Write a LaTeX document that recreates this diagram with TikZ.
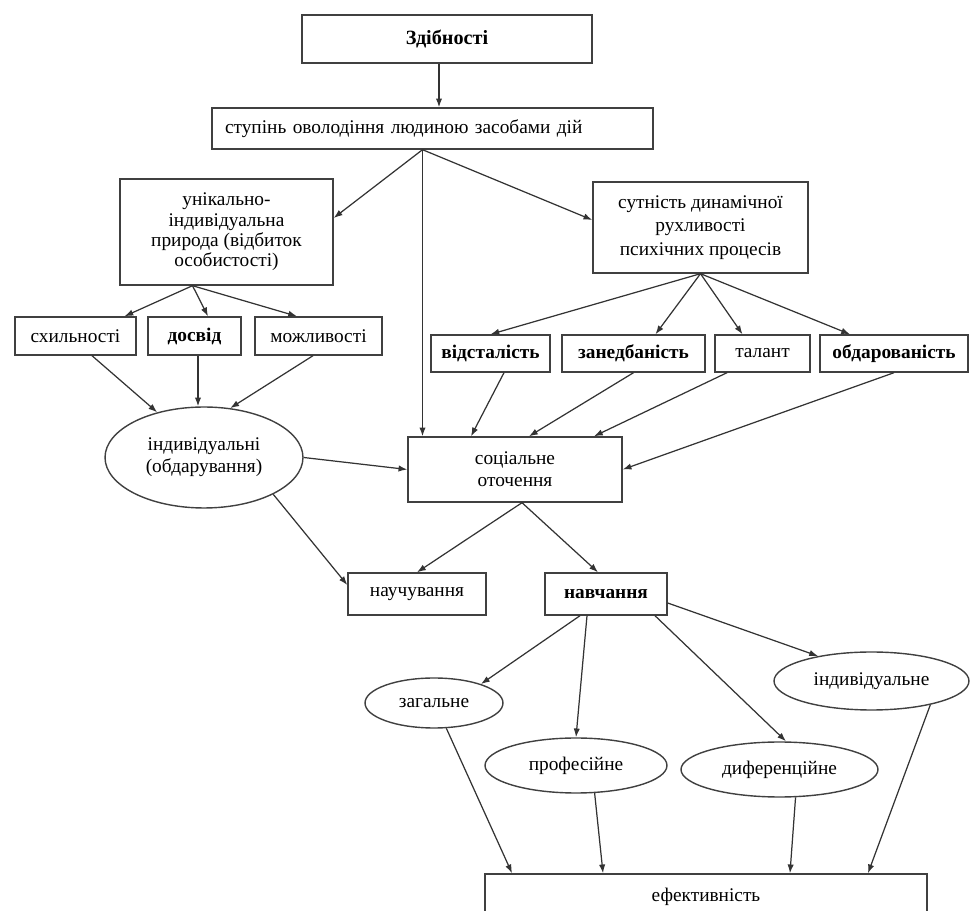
\documentclass[tikz,border=0pt]{standalone}
\usepackage{fontspec}
\setmainfont{Liberation Serif}
\usepackage{tikz}
\usetikzlibrary{shapes.geometric,calc,arrows.meta}

\begin{document}
\begin{tikzpicture}[x=0.02cm, y=-0.02cm,
        box/.style={draw=black!75, line width=0.8pt, rectangle, inner sep=1pt, align=center,
            font=\fontsize{11}{13}\selectfont},
        oval/.style={draw=black!75, line width=0.8pt, ellipse, inner sep=0pt, align=center,
            font=\fontsize{11}{13}\selectfont},
        arr/.style={draw=black!80, line width=0.7pt, -{Latex[length=5pt,width=3.6pt]}}]
        \useasboundingbox (0,0) rectangle (971,911);

        % boxes
        \node[box, minimum width=5.8cm, minimum height=0.96cm, font=\fontsize{11.5}{13}\selectfont\bfseries] (zdib) at (447,39) {Здібності};
        \node[box, minimum height=0.82cm, text width=8.3cm, inner xsep=0.26cm, align=left] (stup) at (432.5,128.5) {ступінь оволодіння людиною засобами дій};
        \node[box, minimum width=4.26cm, minimum height=2.12cm, font=\fontsize{11}{11.6}\selectfont] (unik) at (226.5,232) {унікально-\\індивідуальна\\природа (відбиток\\особистості)};
        \node[box, minimum width=4.3cm, minimum height=1.82cm, font=\fontsize{11}{13.4}\selectfont] (sutn) at (700.5,227.5) {сутність динамічної\\рухливості\\психічних процесів};

        \node[box, minimum width=2.42cm, minimum height=0.76cm] (sxyl) at (75.5,336) {схильності};
        \node[box, minimum width=1.86cm, minimum height=0.76cm, font=\fontsize{11}{13}\selectfont\bfseries] (dosv) at (194.5,336) {досвід};
        \node[box, minimum width=2.54cm, minimum height=0.76cm] (mozh) at (318.5,336) {можливості};

        \node[box, minimum width=2.38cm, minimum height=0.74cm, font=\fontsize{11}{13}\selectfont\bfseries] (vids) at (490.5,353.5) {відсталість};
        \node[box, minimum width=2.86cm, minimum height=0.74cm, font=\fontsize{11}{13}\selectfont\bfseries] (zaned) at (633.5,353.5) {занедбаність};
        \node[box, minimum width=1.9cm, minimum height=0.74cm] (talant) at (762.5,353.5) {талант};
        \node[box, minimum width=2.96cm, minimum height=0.74cm, font=\fontsize{11}{13}\selectfont\bfseries] (obdar) at (894,353.5) {обдарованість};

        \node[oval, minimum width=3.96cm, minimum height=2.02cm, font=\fontsize{11}{12.5}\selectfont] (indiv) at (204,457.5) {індивідуальні\\(обдарування)};
        \node[box, minimum width=4.28cm, minimum height=1.3cm, font=\fontsize{11}{12.5}\selectfont] (soc) at (515,469.5) {соціальне\\оточення};

        \node[box, minimum width=2.76cm, minimum height=0.84cm] (nauch) at (417,594) {научування};
        \node[box, minimum width=2.44cm, minimum height=0.84cm, font=\fontsize{11}{13}\selectfont\bfseries] (navch) at (606,594) {навчання};

        \node[oval, minimum width=2.76cm, minimum height=1.0cm] (zag) at (434,703) {загальне};
        \node[oval, minimum width=3.64cm, minimum height=1.1cm] (prof) at (576,765.5) {професійне};
        \node[oval, minimum width=3.94cm, minimum height=1.1cm] (dyf) at (779.5,769.5) {диференційне};
        \node[oval, minimum width=3.9cm, minimum height=1.16cm] (ind) at (871.5,681) {індивідуальне};

        \node[box, minimum width=8.84cm, minimum height=0.92cm] (efek) at (706,897) {ефективність};

        % fork points
        \coordinate (zdibout) at ([xshift=-0.16cm]zdib.south);
        \coordinate (stupout) at ([xshift=-0.2cm]stup.south);
        \coordinate (unikout) at ([xshift=-0.68cm]unik.south);
        \coordinate (dosvout) at ([xshift=0.07cm]dosv.south);
        \coordinate (socout) at ([xshift=0.14cm]soc.south);

        % arrows
        \draw[arr] (zdibout) -- (zdibout |- stup.north);
        \draw[arr] (stupout) -- ([yshift=0.28cm]unik.east);
        \draw[arr] (stupout) -- (stupout |- soc.north);
        \draw[arr] (stupout) -- ([yshift=0.15cm]sutn.west);

        \draw[arr] (unikout) -- ([xshift=0.98cm]sxyl.north);
        \draw[arr] (unikout) -- ([xshift=0.27cm]dosv.north);
        \draw[arr] (unikout) -- ([xshift=-0.43cm]mozh.north);

        \draw[arr] (sutn.south) -- (vids.north);
        \draw[arr] (sutn.south) -- ([xshift=0.44cm]zaned.north);
        \draw[arr] (sutn.south) -- ([xshift=-0.4cm]talant.north);
        \draw[arr] (sutn.south) -- ([xshift=-0.88cm]obdar.north);

        \draw[arr] ([xshift=0.33cm]sxyl.south) -- (indiv.136);
        \draw[arr] (dosvout) -- (dosvout |- indiv.north);
        \draw[arr] ([xshift=-0.11cm]mozh.south) -- (indiv.62);

        \draw[arr] ([xshift=0.27cm]vids.south) -- ([xshift=-0.88cm]soc.north);
        \draw[arr] (zaned.south) -- ([xshift=0.28cm]soc.north);
        \draw[arr] ([xshift=-0.71cm]talant.south) -- ([xshift=1.58cm]soc.north);
        \draw[arr] (obdar.south) -- (soc.east);

        \draw[arr] (indiv.east) -- (soc.west);
        \draw[arr] (indiv.-28) -- ([yshift=0.18cm]nauch.west);

        \draw[arr] (socout) -- (nauch.north);
        \draw[arr] (socout) -- ([xshift=-0.16cm]navch.north);

        \draw[arr] ([xshift=-0.52cm]navch.south) -- (zag.22);
        \draw[arr] ([xshift=-0.38cm]navch.south) -- (prof.north);
        \draw[arr] ([xshift=0.98cm]navch.south) -- ([xshift=0.13cm]dyf.north);
        \draw[arr] ([yshift=-0.18cm]navch.east) -- (ind.155);

        \draw[arr] (zag.-64) -- ([xshift=-3.88cm]efek.north);
        \draw[arr] (prof.-56) -- ([xshift=-2.06cm]efek.north);
        \draw[arr] (dyf.-60) -- ([xshift=1.68cm]efek.north);
        \draw[arr] (ind.-22) -- ([xshift=3.24cm]efek.north);

\end{tikzpicture}
\end{document}
